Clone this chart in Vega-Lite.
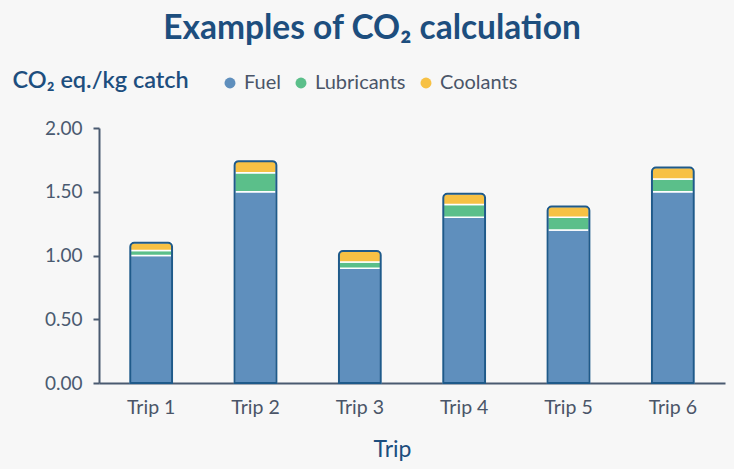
{
  "$schema": "https://vega.github.io/schema/vega-lite/v6.json",
  "width": 626,
  "height": 255,
  "autosize": {"type": "none"},
  "padding": {"left": 99, "top": 128, "right": 9, "bottom": 86},
  "background": "#f7f7f7",
  "config": {
    "font": "Lato",
    "view": {"stroke": null}
  },
  "title": {
    "text": "Examples of CO₂ calculation",
    "fontSize": 33.5,
    "fontWeight": "bold",
    "color": "#1d4e7e",
    "anchor": "middle",
    "offset": 22,
    "dx": -40
  },
  "data": {
    "values": [
      {"trip": "Trip 1", "type": "Fuel", "value": 1.0},
      {"trip": "Trip 1", "type": "Lubricants", "value": 0.04},
      {"trip": "Trip 1", "type": "Coolants", "value": 0.06},
      {"trip": "Trip 2", "type": "Fuel", "value": 1.5},
      {"trip": "Trip 2", "type": "Lubricants", "value": 0.15},
      {"trip": "Trip 2", "type": "Coolants", "value": 0.09},
      {"trip": "Trip 3", "type": "Fuel", "value": 0.9},
      {"trip": "Trip 3", "type": "Lubricants", "value": 0.05},
      {"trip": "Trip 3", "type": "Coolants", "value": 0.085},
      {"trip": "Trip 4", "type": "Fuel", "value": 1.3},
      {"trip": "Trip 4", "type": "Lubricants", "value": 0.1},
      {"trip": "Trip 4", "type": "Coolants", "value": 0.085},
      {"trip": "Trip 5", "type": "Fuel", "value": 1.2},
      {"trip": "Trip 5", "type": "Lubricants", "value": 0.1},
      {"trip": "Trip 5", "type": "Coolants", "value": 0.085},
      {"trip": "Trip 6", "type": "Fuel", "value": 1.5},
      {"trip": "Trip 6", "type": "Lubricants", "value": 0.1},
      {"trip": "Trip 6", "type": "Coolants", "value": 0.09}
    ]
  },
  "encoding": {
    "x": {
      "field": "trip",
      "type": "nominal",
      "scale": {"paddingInner": 0.6, "paddingOuter": 0.3},
      "axis": {
        "title": "Trip",
        "labelAngle": 0,
        "ticks": false,
        "labelFontSize": 19.5,
        "labelColor": "#4a5568",
        "labelPadding": 15,
        "domainColor": "#4a5a70",
        "domainWidth": 2,
        "titleFontSize": 23,
        "titleFontWeight": "normal",
        "titleColor": "#1d4e7e",
        "titlePadding": 22,
        "titleX": 293
      }
    }
  },
  "layer": [
    {
      "transform": [
        {"calculate": "indexof(['Fuel','Lubricants','Coolants'], datum.type)", "as": "k"}
      ],
      "mark": {"type": "bar", "stroke": "#ffffff", "strokeWidth": 1.5},
      "encoding": {
        "y": {
          "field": "value",
          "type": "quantitative",
          "stack": "zero",
          "scale": {"domain": [0, 2]},
          "axis": {
            "title": "CO₂ eq./kg catch",
            "titleAngle": 0,
            "titleAlign": "left",
            "titleBaseline": "alphabetic",
            "titleX": -87,
            "titleY": -41,
            "titleFontSize": 23.5,
            "titleFontWeight": 600,
            "titleColor": "#1d4e7e",
            "values": [0, 0.5, 1, 1.5, 2],
            "format": ".2f",
            "grid": false,
            "labelFontSize": 19,
            "labelColor": "#4a5a70",
            "labelPadding": 11,
            "domainColor": "#4a5a70",
            "domainWidth": 2,
            "tickColor": "#4a5a70",
            "tickWidth": 2,
            "tickSize": 6
          }
        },
        "color": {
          "field": "type",
          "type": "nominal",
          "scale": {
            "domain": ["Fuel", "Lubricants", "Coolants"],
            "range": ["#5f8fbd", "#5bbf8a", "#f7c144"]
          },
          "legend": {
            "title": null,
            "orient": "none",
            "legendX": 121,
            "legendY": -55,
            "direction": "horizontal",
            "columns": 3,
            "symbolType": "circle",
            "symbolSize": 120,
            "symbolStrokeWidth": 0,
            "labelFontSize": 20,
            "labelColor": "#4a5568",
            "labelOffset": 4,
            "columnPadding": 10
          }
        },
        "order": {"field": "k", "type": "quantitative"}
      }
    },
    {
      "mark": {
        "type": "bar",
        "fill": null,
        "fillOpacity": 0,
        "stroke": "#1f5a8a",
        "strokeWidth": 2,
        "cornerRadiusTopLeft": 4,
        "cornerRadiusTopRight": 4
      },
      "encoding": {
        "y": {"aggregate": "sum", "field": "value", "type": "quantitative"}
      }
    }
  ]
}
